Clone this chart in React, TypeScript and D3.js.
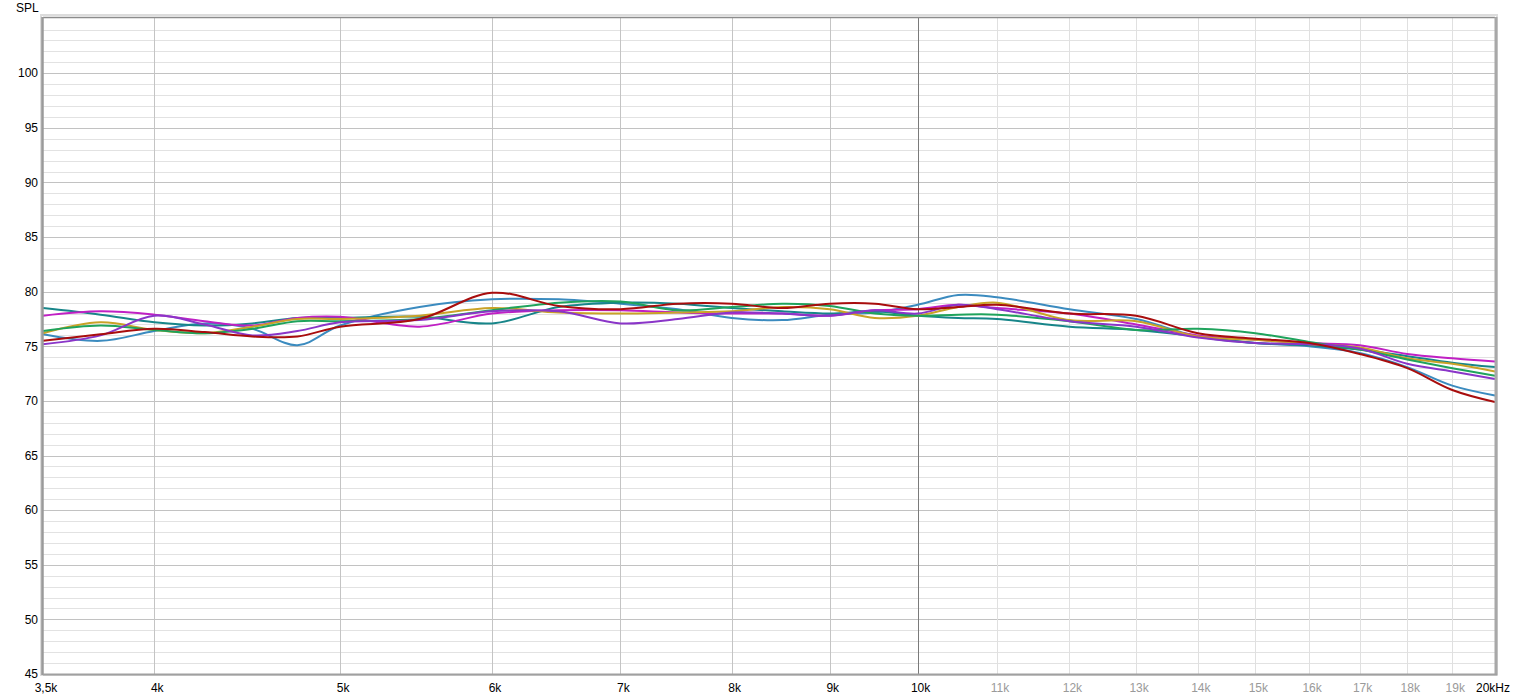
import React from "react";
import * as d3 from "d3";

const W = 1516;
const H = 699;

const freqs = [3500, 3750, 4000, 4250, 4500, 4750, 5000, 5500, 6000, 6500, 7000, 7500, 8000, 8500, 9000, 9500, 10000, 10500, 11000, 12000, 13000, 14000, 15000, 16000, 17000, 18000, 19000, 20000];

const blue = [76.1, 75.5, 76.4, 77.1, 76.6, 75.1, 76.9, 78.6, 79.3, 79.3, 78.9, 78.4, 77.6, 77.4, 77.9, 78.1, 78.8, 79.7, 79.5, 78.4, 77.5, 75.9, 75.3, 75.0, 74.4, 73.1, 71.4, 70.5];
const teal = [78.5, 77.9, 77.2, 76.9, 77.1, 77.6, 77.6, 77.7, 77.1, 78.6, 79.0, 78.9, 78.5, 78.2, 78.0, 78.2, 77.8, 77.6, 77.5, 76.8, 76.5, 75.9, 75.3, 75.1, 74.7, 74.1, 73.5, 73.1];
const magenta = [77.8, 78.2, 77.9, 77.3, 76.9, 77.6, 77.7, 76.8, 78.0, 78.3, 78.3, 78.1, 78.0, 78.0, 77.8, 78.3, 78.4, 78.8, 78.5, 78.0, 77.0, 76.0, 75.6, 75.3, 75.1, 74.3, 73.9, 73.6];
const gold = [76.2, 77.2, 76.5, 76.2, 76.8, 77.5, 77.5, 77.8, 78.5, 78.1, 78.0, 78.1, 78.2, 78.6, 78.4, 77.6, 77.8, 78.6, 79.0, 77.4, 77.3, 75.9, 75.6, 75.2, 74.9, 73.9, 73.4, 72.7];
const green = [76.4, 76.9, 76.5, 76.2, 76.6, 77.3, 77.3, 77.5, 78.3, 79.0, 79.1, 78.3, 78.6, 78.9, 78.7, 78.0, 77.8, 77.9, 77.9, 77.3, 76.5, 76.6, 76.2, 75.4, 74.7, 73.8, 73.0, 72.3];
const purple = [75.2, 76.0, 77.8, 77.0, 76.0, 76.4, 77.2, 77.4, 78.2, 78.2, 77.1, 77.5, 78.1, 78.0, 77.8, 78.3, 78.0, 78.8, 78.4, 77.3, 76.8, 75.8, 75.3, 75.2, 74.8, 73.4, 72.7, 72.0];
const red = [75.5, 76.1, 76.6, 76.3, 75.9, 75.9, 76.8, 77.5, 79.9, 78.7, 78.4, 78.9, 78.9, 78.5, 78.9, 78.9, 78.4, 78.6, 78.8, 78.0, 77.8, 76.2, 75.7, 75.3, 74.3, 73.0, 71.0, 69.9];

const seriesValues = [blue, teal, magenta, gold, green, purple, red];
const seriesColors = ["#3b8bbf", "#178589", "#c020c4", "#c9a227", "#1fa35c", "#8a35c8", "#a80d0d"];

const xTicks = [3500, 4000, 5000, 6000, 7000, 8000, 9000, 10000, 11000, 12000, 13000, 14000, 15000, 16000, 17000, 18000, 19000, 20000];
const xTickLabels = ["3,5k", "4k", "5k", "6k", "7k", "8k", "9k", "10k", "11k", "12k", "13k", "14k", "15k", "16k", "17k", "18k", "19k", "20kHz"];
const yMajor = [45, 50, 55, 60, 65, 70, 75, 80, 85, 90, 95, 100];

const left = 43;
const right = 1495;
const top = 17;
const bottom = 674;

export default function App() {
  const x = d3.scaleLog().domain([3500, 20000]).range([left, right]);
  const y = d3.scaleLinear().domain([45, 105.15]).range([bottom, top]);
  const line = d3
    .line<number>()
    .x((_, i) => x(freqs[i]))
    .y((v) => y(v))
    .curve(d3.curveCatmullRom.alpha(0.5));

  const minor = d3.range(46, 106).filter((v) => v % 5 !== 0);
  const font = "'Liberation Sans', Arial, 'DejaVu Sans', sans-serif";

  return (
    <svg width={W} height={H} style={{ position: "absolute", left: 0, top: 0, background: "#fff" }} fontFamily={font} fontSize={12}>
      <rect x={0} y={0} width={W} height={H} fill="#fff" />
      {/* shadow frame */}
      <rect x={left - 2} y={top - 2} width={right - left + 4} height={bottom - top + 3} fill="none" stroke="#dcdcdc" strokeWidth={2} />
      <rect x={left} y={top} width={right - left} height={bottom - top} fill="#fff" />
      {minor.map((v) => (
        <line key={"mn" + v} x1={left} x2={right} y1={Math.round(y(v)) + 0.5} y2={Math.round(y(v)) + 0.5} stroke="#e2e2e2" strokeWidth={1} />
      ))}
      {yMajor.map((v) => (
        <line key={"mj" + v} x1={left} x2={right} y1={Math.round(y(v)) + 0.5} y2={Math.round(y(v)) + 0.5} stroke="#c2c2c2" strokeWidth={1} />
      ))}
      {xTicks.slice(1, -1).map((f) => {
        const px = Math.round(x(f)) + 0.5;
        const col = f === 10000 ? "#7a7a7a" : f < 10000 ? "#c4c4c4" : "#e0e0e0";
        return <line key={"vx" + f} x1={px} x2={px} y1={top} y2={bottom} stroke={col} strokeWidth={1} />;
      })}
      {seriesValues.map((vals, i) => (
        <path key={"s" + i} d={line(vals) || ""} fill="none" stroke={seriesColors[i]} strokeWidth={2} strokeLinejoin="round" />
      ))}
      {/* frame */}
      <line x1={left} x2={right} y1={top + 0.5} y2={top + 0.5} stroke="#8c8c8c" strokeWidth={1.5} />
      <line x1={left - 0.5} x2={left - 0.5} y1={top} y2={bottom + 1} stroke="#9a9a9a" strokeWidth={2.5} />
      <line x1={right + 1} x2={right + 1} y1={top} y2={bottom + 1} stroke="#a8a8a8" strokeWidth={3} />
      <line x1={left} x2={right + 2} y1={bottom + 0.5} y2={bottom + 0.5} stroke="#a0a0a0" strokeWidth={2} />
      <text x={16} y={12} fill="#000">SPL</text>
      {yMajor.map((v) => (
        <text key={"yl" + v} x={38} y={y(v)} dy="0.35em" textAnchor="end" fill="#000">
          {v}
        </text>
      ))}
      {xTicks.map((f, i) => (
        <text
          key={"xl" + f}
          x={x(f) + (i === xTicks.length - 1 ? -2 : 3)}
          y={692}
          textAnchor="middle"
          fill={f > 10000 && f < 20000 ? "#9a9a9a" : "#000"}
        >
          {xTickLabels[i]}
        </text>
      ))}
    </svg>
  );
}
